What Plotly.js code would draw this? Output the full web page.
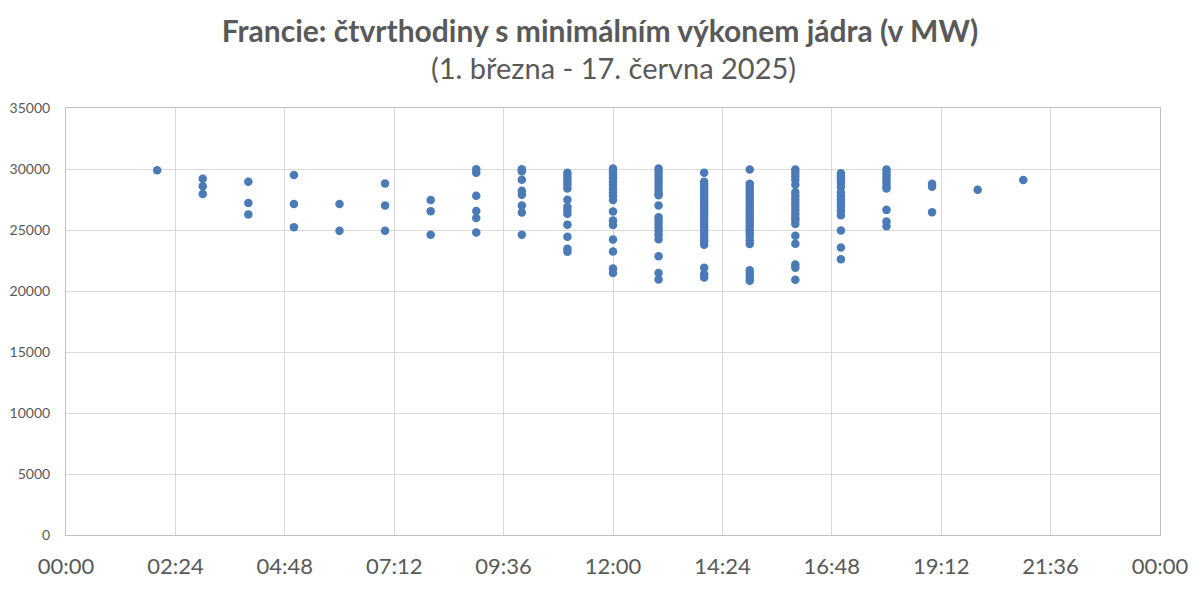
<!DOCTYPE html>
<html>
<head>
<meta charset="utf-8">
<script src="https://cdn.plot.ly/plotly-3.0.1.min.js"></script>
<style>
  html, body { margin: 0; padding: 0; background: #ffffff; }
  #myDiv { width: 1200px; height: 592px; }
</style>
</head>
<body>
<div id="myDiv"></div>
<script>
// Minimální výkon jádra (MW) podle hodiny dne
let h02 = [29900];
let h03 = [29200, 28580, 27950];
let h04 = [28950, 27220, 26280];
let h05 = [29500, 27130, 25230];
let h06 = [27130, 24930];
let h07 = [28820, 27000, 24930];
let h08 = [27460, 26530, 24620];
let h09 = [29980, 29700, 27800, 26550, 25980, 24800];
let h10 = [29980, 29820, 29120, 28220, 27880, 27000, 26440, 24620];
let h11 = [29700, 29450, 29200, 28950, 28700, 28400, 27480, 26880, 26600, 26330, 25440, 24440, 23470, 23220];
let h12 = [30050, 29800, 29550, 29300, 29000, 28700, 28400, 28100, 27800, 27450, 26520, 25780, 25420, 24220, 23230, 21850, 21480];
let h13 = [30050, 29800, 29500, 29200, 28900, 28600, 28300, 28000, 27850, 27000, 26050, 25800, 25500, 25200, 24900, 24600, 24250, 22840, 21480, 20950];
let h14 = [29700, 28950, 28700, 28450, 28200, 27950, 27700, 27450, 27200, 26950, 26700, 26450, 26200, 25950, 25700, 25450, 25200, 24950, 24700, 24400, 24100, 23800, 21900, 21400, 21100];
let h15 = [29950, 28800, 28550, 28300, 28050, 27800, 27550, 27300, 27050, 26800, 26550, 26300, 26050, 25800, 25550, 25300, 25050, 24800, 24500, 24150, 23850, 21700, 21400, 21100, 20850];
let h16 = [29950, 29700, 29400, 29100, 28700, 28100, 27800, 27500, 27200, 26900, 26600, 26300, 26000, 25800, 25500, 24530, 23880, 22180, 21900, 20930];
let h17 = [29650, 29400, 29150, 28850, 28550, 28100, 27800, 27500, 27200, 26900, 26550, 26200, 24950, 23570, 22600];
let h18 = [29950, 29700, 29450, 29200, 28900, 28600, 28400, 26650, 25700, 25300];
let h19 = [28800, 28550, 26450];
let h20 = [28300];
let h21 = [29100];

let hours = [2, 3, 4, 5, 6, 7, 8, 9, 10, 11, 12, 13, 14, 15, 16, 17, 18, 19, 20, 21];
let values = [h02, h03, h04, h05, h06, h07, h08, h09, h10, h11, h12, h13, h14, h15, h16, h17, h18, h19, h20, h21];

let tickVals = [0, 2.4, 4.8, 7.2, 9.6, 12, 14.4, 16.8, 19.2, 21.6, 24];
let tickLabels = ['00:00', '02:24', '04:48', '07:12', '09:36', '12:00', '14:24', '16:48', '19:12', '21:36', '00:00'];

let x = [];
let y = [];
for (let i = 0; i < hours.length; i++) {
    for (let v of values[i]) {
        x.push(hours[i]);
        y.push(v);
    }
}

let trace = {
    x: x,
    y: y,
    mode: 'markers',
    type: 'scatter',
    hoverinfo: 'none',
    marker: { size: 8.5, color: '#4a7bb7' }
};

let layout = {
    width: 1200,
    height: 592,
    font: { family: 'Lato, "Open Sans", sans-serif', color: '#595959' },
    title: {
        text: '<b>Francie: čtvrthodiny s minimálním výkonem jádra (v MW)</b>',
        font: { size: 30, color: '#595959' },
        x: 0.5,
        xanchor: 'center',
        y: 0.947,
        yanchor: 'middle'
    },
    annotations: [{
        text: '(1. března - 17. června 2025)',
        xref: 'paper', yref: 'paper',
        x: 0.5, y: 1.094,
        xanchor: 'center', yanchor: 'middle',
        showarrow: false,
        font: { size: 29, color: '#595959' }
    }],
    paper_bgcolor: '#ffffff',
    plot_bgcolor: '#ffffff',
    margin: { l: 66, r: 40, t: 108, b: 57 },
    xaxis: {
        range: [0, 24],
        tickvals: tickVals,
        ticktext: tickLabels,
        tickfont: { size: 22, color: '#595959' },
        ticks: '',
        ticklabelstandoff: 12,
        showgrid: true,
        gridcolor: '#d9d9d9',
        gridwidth: 1,
        zeroline: false,
        showline: true,
        linecolor: '#bfbfbf',
        mirror: true,
        fixedrange: true
    },
    yaxis: {
        range: [0, 35000],
        tickvals: [0, 5000, 10000, 15000, 20000, 25000, 30000, 35000],
        tickformat: 'd',
        tickfont: { size: 14, color: '#595959' },
        ticks: '',
        ticklabelstandoff: 12,
        showgrid: true,
        gridcolor: '#d9d9d9',
        gridwidth: 1,
        zeroline: false,
        showline: true,
        linecolor: '#bfbfbf',
        mirror: true,
        fixedrange: true
    },
    showlegend: false
};

Plotly.newPlot('myDiv', [trace], layout, { displayModeBar: false, staticPlot: true });
</script>
</body>
</html>
